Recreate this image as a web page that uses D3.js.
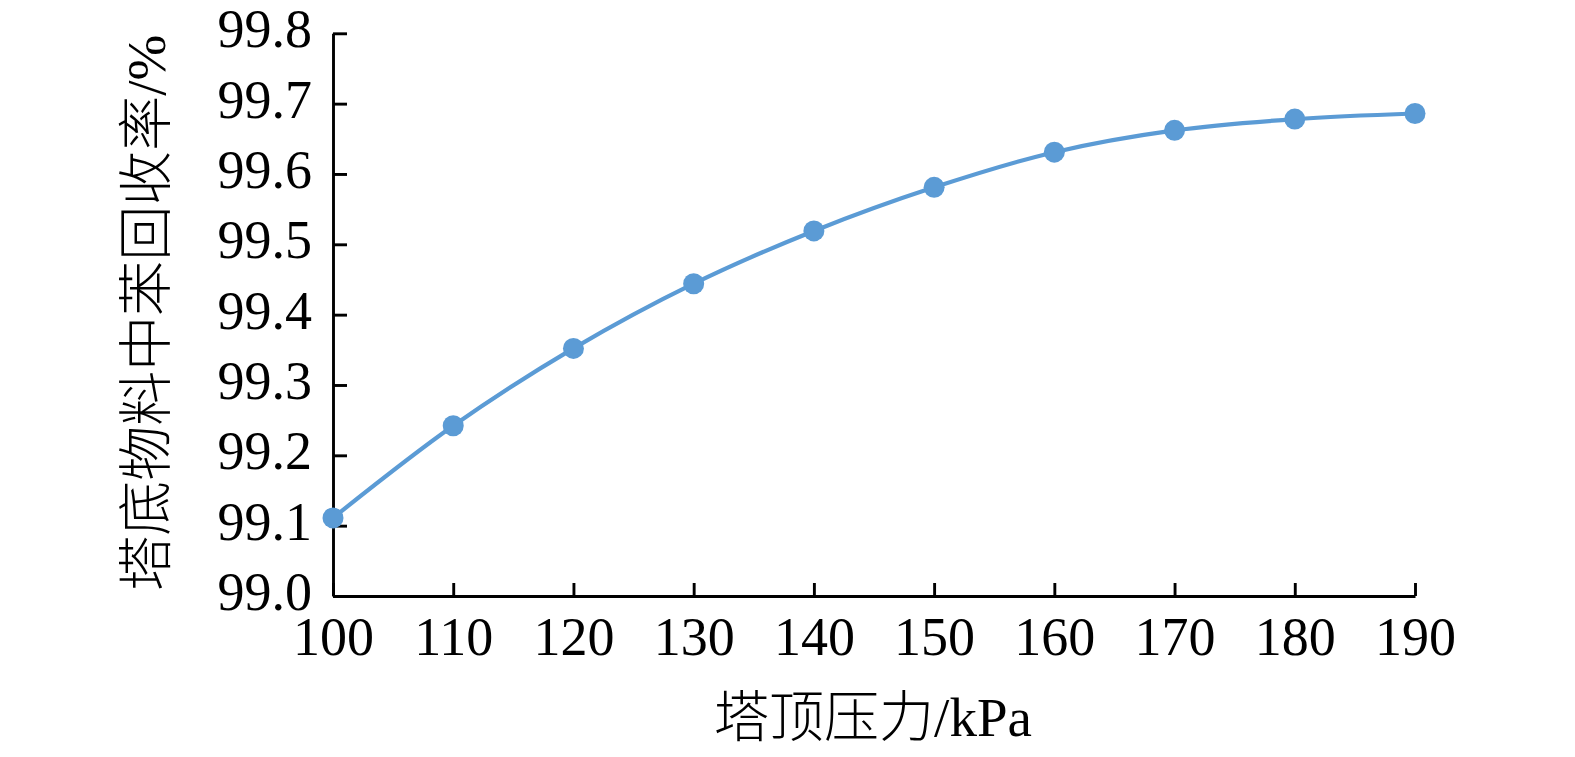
<!DOCTYPE html>
<html>
<head>
<meta charset="utf-8">
<script src="https://cdn.jsdelivr.net/npm/d3@7"></script>
<style>
  html, body { margin: 0; padding: 0; background: #fff; }
  svg { display: block; }
  text { font-family: "Liberation Serif", "Times New Roman", "Noto Sans CJK SC", serif; fill: #000; }
</style>
</head>
<body>
<svg id="chart" width="1575" height="757"></svg>
<script>
// Data
const pressures = [100, 110, 120, 130, 140, 150, 160, 170, 180, 190];
const recovery = [99.111, 99.242, 99.352, 99.444, 99.519, 99.581, 99.631, 99.662, 99.678, 99.686];
const xTicks = [100, 110, 120, 130, 140, 150, 160, 170, 180, 190];
const yTicks = [99.0, 99.1, 99.2, 99.3, 99.4, 99.5, 99.6, 99.7, 99.8];
const xTitle = "塔顶压力/kPa";
const yTitle = "塔底物料中苯回收率/%";

(function () {
  const svg = d3.select("#chart");
  const plotLeft = 333, plotRight = 1415, plotTop = 33.3, plotBottom = 596;

  const x = d3.scaleLinear().domain([100, 190]).range([plotLeft, plotRight]);
  const y = d3.scaleLinear().domain([99.0, 99.8]).range([plotBottom, plotTop]);

  const axisColor = "#000";
  const axisWidth = 2.9;
  const fontSize = 54;

  // Y axis
  const yAxis = svg.append("g")
    .attr("transform", `translate(${plotLeft},0)`)
    .call(d3.axisLeft(y).tickValues(yTicks).tickFormat(d3.format(".1f"))
      .tickSizeInner(-14).tickSizeOuter(0).tickPadding(21));
  yAxis.select(".domain").attr("stroke", axisColor).attr("stroke-width", axisWidth);
  yAxis.selectAll(".tick line").attr("stroke", axisColor).attr("stroke-width", axisWidth);
  yAxis.selectAll(".tick text")
    .attr("font-size", fontSize)
    .attr("dy", "0.25em")
    .style("font-family", '"Liberation Serif", "Times New Roman", serif');

  // X axis
  const xAxis = svg.append("g")
    .attr("transform", `translate(0,${plotBottom})`)
    .call(d3.axisBottom(x).tickValues(xTicks).tickFormat(d3.format("d"))
      .tickSizeInner(-13).tickSizeOuter(0).tickPadding(21));
  xAxis.select(".domain").attr("stroke", axisColor).attr("stroke-width", axisWidth);
  xAxis.selectAll(".tick line").attr("stroke", axisColor).attr("stroke-width", axisWidth);
  xAxis.selectAll(".tick text")
    .attr("font-size", fontSize)
    .style("font-family", '"Liberation Serif", "Times New Roman", serif');

  // Smooth line
  const pts = pressures.map((p, i) => ({ p, v: recovery[i] }));
  const line = d3.line()
    .x(d => x(d.p))
    .y(d => y(d.v))
    .curve(d3.curveCatmullRom.alpha(0.5));

  svg.append("path")
    .datum(pts)
    .attr("fill", "none")
    .attr("stroke", "#5B9BD5")
    .attr("stroke-width", 4.2)
    .attr("d", line);

  svg.append("g").selectAll("circle")
    .data(pts)
    .join("circle")
    .attr("cx", d => x(d.p))
    .attr("cy", d => y(d.v))
    .attr("r", 10.5)
    .attr("fill", "#5B9BD5");

  // Axis titles
  svg.append("text")
    .attr("x", (plotLeft + plotRight) / 2 - 1)
    .attr("y", 736)
    .attr("text-anchor", "middle")
    .attr("font-size", 55)
    .attr("font-weight", 300)
    .text(xTitle);

  svg.append("text")
    .attr("transform", `translate(146,${(plotTop + plotBottom) / 2 - 2}) rotate(-90)`)
    .attr("text-anchor", "middle")
    .attr("dominant-baseline", "central")
    .attr("font-size", 55)
    .attr("font-weight", 300)
    .text(yTitle);
})();
</script>
</body>
</html>
